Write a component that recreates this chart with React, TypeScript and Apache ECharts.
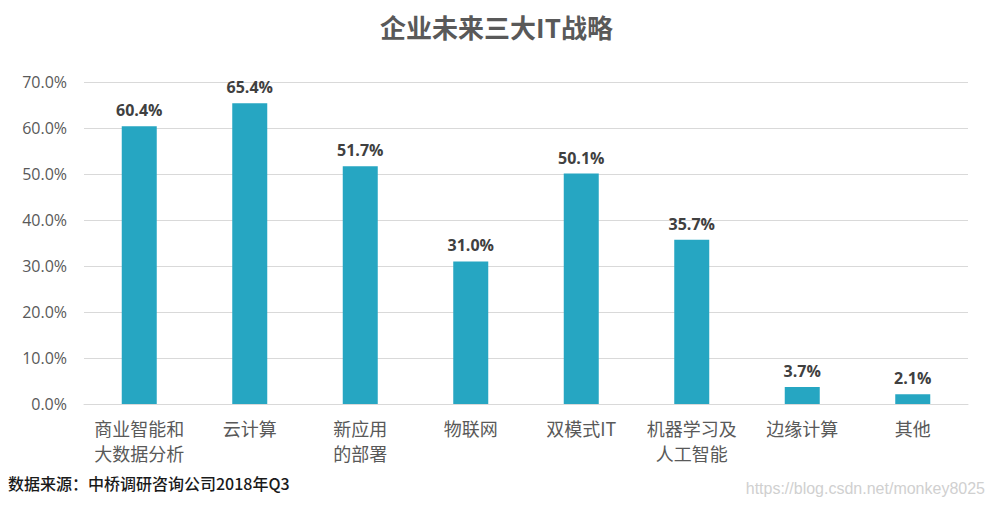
import React, { useEffect, useRef } from "react";
import * as echarts from "echarts";

const categories = ["商业智能和\n大数据分析", "云计算", "新应用\n的部署", "物联网", "双模式IT", "机器学习及\n人工智能", "边缘计算", "其他"];
const values = [60.4, 65.4, 51.7, 31.0, 50.1, 35.7, 3.7, 2.1];
const titleText = "企业未来三大IT战略";
const sourceText = "数据来源：中桥调研咨询公司2018年Q3";
const watermarkText = "https://blog.csdn.net/monkey8025";

export default function App() {
  const ref = useRef<HTMLDivElement>(null);
  useEffect(() => {
    if (!ref.current) return;
    const chart = echarts.init(ref.current, null, { renderer: "svg" });
    chart.setOption({
      animation: false,
      title: {
        text: titleText,
        left: "center",
        top: 8,
        textStyle: { fontFamily: "Noto Sans CJK SC", fontSize: 26, fontWeight: "bold", color: "#595959" },
      },
      grid: { left: 84, right: 25, top: 82, bottom: 104, containLabel: false },
      xAxis: {
        type: "category",
        data: categories,
        axisLine: { lineStyle: { color: "#d9d9d9" } },
        axisTick: { show: false },
        axisLabel: {
          fontFamily: "Noto Sans CJK SC",
          fontSize: 18,
          color: "#595959",
          lineHeight: 25,
          margin: 11,
          interval: 0,
        },
      },
      yAxis: {
        type: "value",
        min: 0,
        max: 70,
        interval: 10,
        axisLine: { show: false },
        axisTick: { show: false },
        splitLine: { lineStyle: { color: "#d9d9d9" } },
        axisLabel: {
          fontFamily: "Open Sans",
          fontSize: 16,
          color: "#595959",
          margin: 17,
          formatter: (v: number) => v.toFixed(1) + "%",
        },
      },
      series: [
        {
          type: "bar",
          data: values,
          barWidth: 35,
          itemStyle: { color: "#26A6C2" },
          label: {
            show: true,
            position: "top",
            distance: 8,
            fontFamily: "Open Sans",
            fontWeight: "bold",
            fontSize: 16,
            color: "#404040",
            formatter: (p: any) => p.value.toFixed(1) + "%",
          },
        },
      ],
      graphic: [
        {
          type: "text",
          left: 8,
          top: 475,
          style: { text: sourceText, font: "500 16px 'Noto Sans CJK SC'", fill: "#1a1a1a" },
        },
        {
          type: "text",
          right: 8,
          top: 480,
          style: { text: watermarkText, font: "16px 'Liberation Sans'", fill: "#d0d0d0" },
        },
      ],
    });
    return () => chart.dispose();
  }, []);
  return <div ref={ref} style={{ width: 993, height: 508, position: "absolute", left: 0, top: 0 }} />;
}
